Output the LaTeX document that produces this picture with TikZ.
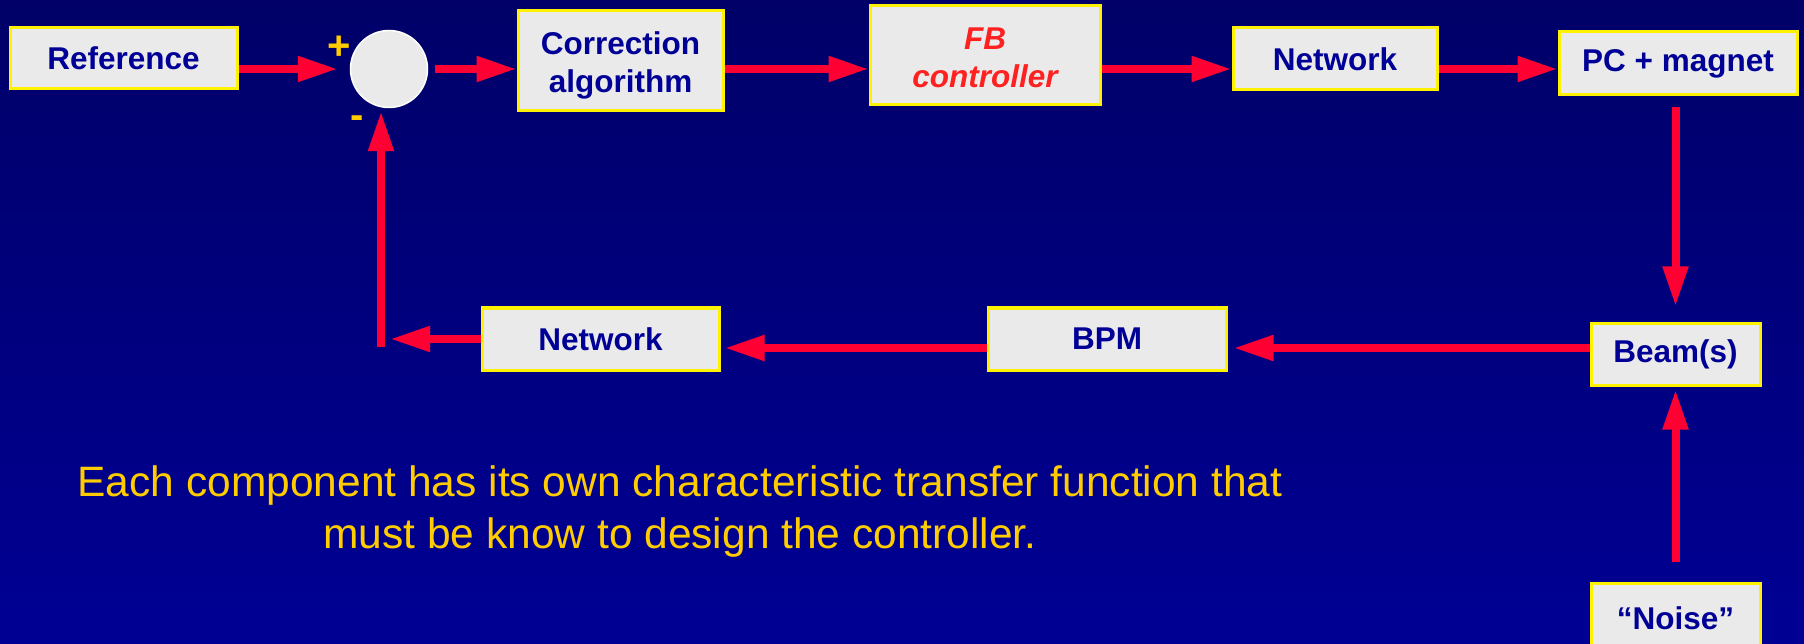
\documentclass[tikz,border=0pt]{standalone}
\usepackage{fontspec}
\setmainfont{Liberation Sans}
\usetikzlibrary{arrows.meta}

\definecolor{navytop}{RGB}{0,0,104}
\definecolor{navybot}{RGB}{0,0,148}
\definecolor{boxgray}{RGB}{234,234,234}
\definecolor{boxtext}{RGB}{0,0,150}
\definecolor{flowred}{RGB}{255,0,51}
\definecolor{gold}{RGB}{255,204,0}
\definecolor{fbred}{RGB}{255,32,32}
\newcommand{\boxfont}{\fontsize{31.5}{38}\selectfont\bfseries}

\begin{document}
\begin{tikzpicture}[x=1pt, y=-1pt,
  block/.style={draw=yellow, line width=3pt, fill=boxgray, text=boxtext,
    font=\boxfont, align=center, inner sep=0pt},
  flow/.style={draw=flowred, line width=8pt, -{Triangle[length=40pt,width=24pt]}}]
  % Background
  \shade[top color=navytop, bottom color=navybot] (0,0) rectangle (1804,644);
  \useasboundingbox (0,0) rectangle (1804,644);
  \clip (0,0) rectangle (1804,644);

  % Forward path
  \node[block, minimum width=227pt, minimum height=61pt] (ref) at (123.5,58.5) {Reference};
  \node[circle, draw=white, line width=1.5pt, fill=boxgray, minimum size=77pt] (sum) at (389,69) {};
  \node[text=gold, font=\fontsize{40}{40}\selectfont\bfseries] (plus) at (339,48) {+};
  \node[text=gold, font=\fontsize{40}{40}\selectfont\bfseries] (minus) at (357,122) {-};
  \node[block, minimum width=205pt, minimum height=100pt] (corr) at (620.5,61) {\rule{0pt}{31pt}Correction\\algorithm};
  \node[block, minimum width=230pt, minimum height=99pt, text=fbred, font=\boxfont\itshape] (fb) at (985,55.5) {\rule{0pt}{27pt}FB\\controller};
  \node[block, minimum width=204pt, minimum height=62pt] (net1) at (1335,59) {Network};
  \node[block, minimum width=238pt, minimum height=63pt] (pc) at (1678,63.5) {PC + magnet};

  % Beam and return path
  \node[block, minimum width=169pt, minimum height=62pt] (beam) at (1675.5,354) {Beam(s)};
  \node[block, minimum width=169pt, minimum height=70pt] (noise) at (1675.5,618) {“Noise”};
  \node[block, minimum width=238pt, minimum height=62pt] (bpm) at (1107,339) {BPM};
  \node[block, minimum width=237pt, minimum height=62pt] (net2) at (600.5,339) {Network};
  \coordinate (fbk) at (381,347);

  % Arrows
  \draw[flow, shorten >=12pt] (ref.east |- sum) -- (sum.west);
  \draw[flow, shorten <=7pt] (sum.east) -- (corr.west |- sum);
  \draw[flow] (corr.east |- sum) -- (fb.west |- sum);
  \draw[flow] (fb.east |- sum) -- (net1.west |- sum);
  \draw[flow] (net1.east |- sum) -- (pc.west |- sum);
  \draw[flow, shorten <=11pt, shorten >=15pt] (pc.south -| beam) -- (beam.north);
  \draw[flow, shorten <=20pt, shorten >=3pt] (noise.north) -- (beam.south);
  \draw[flow, shorten >=6pt] ([yshift=6pt]beam.west) -- ([yshift=-9pt]bpm.east);
  \draw[flow, shorten >=4pt] ([yshift=-9pt]bpm.west) -- ([yshift=-9pt]net2.east);
  \draw[flow, shorten >=9pt] (net2.west) -- (fbk |- net2.west);
  \draw[flow, shorten >=3pt] (fbk) -- (fbk |- sum.south);

  % Caption
  \node[text=gold, font=\fontsize{42.5}{52}\selectfont, align=center] (note) at (680,512)
    {Each component has its own characteristic transfer function that\\must be know to design the controller.};
\end{tikzpicture}
\end{document}
